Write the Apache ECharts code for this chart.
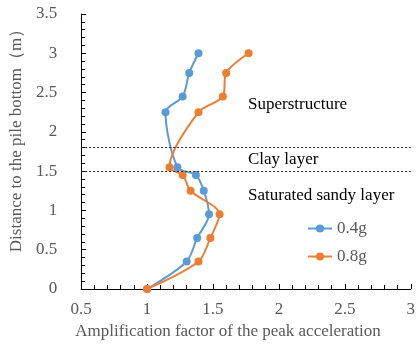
<!DOCTYPE html>
<html>
<head>
<meta charset="utf-8">
<script src="https://cdn.jsdelivr.net/npm/echarts@6/dist/echarts.min.js"></script>
<style>
html, body { margin: 0; padding: 0; background: #fff; }
#chart { width: 418px; height: 345px; }
</style>
</head>
<body>
<div id="chart"></div>
<script>
// distance to pile bottom (m)
var depth = [0, 0.35, 0.65, 0.95, 1.25, 1.45, 1.55, 2.25, 2.45, 2.75, 3.0];
// amplification factor of peak acceleration
var amp04 = [1.0, 1.30, 1.38, 1.47, 1.43, 1.37, 1.23, 1.14, 1.27, 1.32, 1.39];
var amp08 = [1.0, 1.39, 1.48, 1.55, 1.33, 1.27, 1.17, 1.39, 1.575, 1.60, 1.77];
var seriesNames = ['0.4g', '0.8g'];
var layerBounds = [1.8, 1.5];
var layerNames = ['Superstructure', 'Clay layer', 'Saturated sandy layer'];

function pairs(xs, ys) {
  return xs.map(function (x, i) { return [x, ys[i]]; });
}

var chart = echarts.init(document.getElementById('chart'));
var serif = '"Liberation Serif", "Times New Roman", serif';
var grey = '#595959';

var option = {
  animation: false,
  textStyle: { fontFamily: serif },
  grid: { left: 72, right: 5, top: 14, bottom: 56 },
  legend: {
    orient: 'vertical',
    left: 302,
    top: 215,
    itemGap: 11,
    itemWidth: 24,
    itemHeight: 10,
    data: seriesNames,
    textStyle: { color: grey, fontSize: 17, fontFamily: serif }
  },
  xAxis: {
    type: 'value',
    min: 0.5, max: 3, interval: 0.5,
    name: 'Amplification factor of the peak acceleration',
    nameLocation: 'middle',
    nameGap: 34,
    nameTextStyle: { color: grey, fontSize: 17, fontFamily: serif, padding: [0, 36, 0, 0] },
    axisLine: { lineStyle: { color: '#000', width: 1 } },
    axisTick: { inside: true, length: 5, lineStyle: { color: '#000' } },
    minorTick: { show: true, splitNumber: 5, length: 4, lineStyle: { color: '#000' } },
    splitLine: { show: false },
    axisLabel: { color: grey, fontSize: 17, margin: 12, fontFamily: serif }
  },
  yAxis: {
    type: 'value',
    min: 0, max: 3.5, interval: 0.5,
    name: 'Distance to the pile bottom（m）',
    nameLocation: 'middle',
    nameRotate: 90,
    nameGap: 47,
    nameTextStyle: { color: grey, fontSize: 17, fontFamily: serif, padding: [0, 0, 0, 30] },
    axisLine: { show: true, lineStyle: { color: '#000', width: 1 } },
    axisTick: { show: true, inside: true, length: 5, lineStyle: { color: '#000' } },
    minorTick: { show: true, splitNumber: 5, length: 4, lineStyle: { color: '#000' } },
    splitLine: { show: false },
    axisLabel: { color: grey, fontSize: 17, margin: 24, fontFamily: serif }
  },
  graphic: [
    { type: 'text', left: 248, top: 96, style: { text: layerNames[0], font: '17px ' + serif, fill: '#000' } },
    { type: 'text', left: 248, top: 151, style: { text: layerNames[1], font: '17px ' + serif, fill: '#000' } },
    { type: 'text', left: 248, top: 187, style: { text: layerNames[2], font: '17px ' + serif, fill: '#000' } }
  ],
  series: [
    {
      name: seriesNames[0],
      type: 'line',
      data: pairs(amp04, depth),
      smooth: 0.3,
      symbol: 'circle',
      symbolSize: 8,
      itemStyle: { color: '#5B9BD5' },
      lineStyle: { color: '#5B9BD5', width: 2 },
      markLine: {
        silent: true,
        symbol: 'none',
        label: { show: false },
        lineStyle: { color: '#222', type: [2, 2], width: 1 },
        data: layerBounds.map(function (v) {
          return [{ coord: [0.5, v] }, { coord: [3, v] }];
        })
      }
    },
    {
      name: seriesNames[1],
      type: 'line',
      data: pairs(amp08, depth),
      smooth: 0.3,
      symbol: 'circle',
      symbolSize: 8,
      itemStyle: { color: '#ED7D31' },
      lineStyle: { color: '#ED7D31', width: 2 }
    }
  ]
};
chart.setOption(option);
</script>
</body>
</html>
